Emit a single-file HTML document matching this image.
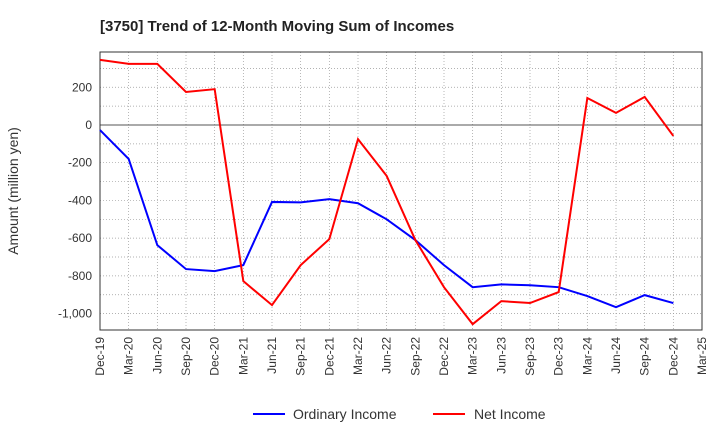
<!DOCTYPE html>
<html><head><meta charset="utf-8"><style>
body{margin:0;background:#fff;font-family:"Liberation Sans",sans-serif}
svg text{font-family:"Liberation Sans",sans-serif}
</style></head><body>
<svg width="720" height="440">
<text x="100" y="31" font-size="15" font-weight="bold" fill="#222">[3750]  Trend of 12-Month Moving Sum of Incomes</text>
<g id="grid"></g>
<g id="axes"></g>
<g id="series"></g>
<text transform="translate(18,191) rotate(-90)" text-anchor="middle" font-size="14" fill="#333">Amount (million yen)</text>
<g>
<g><line x1="253" y1="414" x2="285" y2="414" stroke="#0000ff" stroke-width="2"/><text x="293" y="419" font-size="14" fill="#333">Ordinary Income</text></g>
<g><line x1="433" y1="414" x2="465" y2="414" stroke="#ff0000" stroke-width="2"/><text x="474" y="419" font-size="14" fill="#333">Net Income</text></g>
</g>
</svg>
<script>
const categories=["Dec-19","Mar-20","Jun-20","Sep-20","Dec-20","Mar-21","Jun-21","Sep-21","Dec-21","Mar-22","Jun-22","Sep-22","Dec-22","Mar-23","Jun-23","Sep-23","Dec-23","Mar-24","Jun-24","Sep-24","Dec-24","Mar-25"];
const ordinaryIncome=[-27,-180,-637,-764,-775,-743,-408,-410,-393,-415,-500,-610,-743,-860,-845,-850,-860,-907,-966,-902,-944];
const netIncome=[345,324,324,175,190,-828,-955,-743,-605,-75,-270,-610,-860,-1056,-934,-944,-886,143,64,149,-58];
const yTicks=[200,0,-200,-400,-600,-800,-1000];
const yTickLabels=["200","0","-200","-400","-600","-800","-1,000"];
const X0=100,X1=702,Y0=52,Y1=330,YMAX=387,YMIN=-1087;
const xs=i=>X0+i*(X1-X0)/(categories.length-1);
const ys=v=>Y0+(YMAX-v)/(YMAX-YMIN)*(Y1-Y0);
const NS="http://www.w3.org/2000/svg";
function mk(p,t,a){const e=document.createElementNS(NS,t);for(const k in a)e.setAttribute(k,a[k]);p.appendChild(e);return e;}
const grid=document.getElementById('grid'),axes=document.getElementById('axes'),ser=document.getElementById('series');
for(let v=-1000;v<=300;v+=100){const l=mk(grid,'line',{x1:X0,x2:X1,y1:ys(v),y2:ys(v),stroke:'#999','stroke-width':0.7,'stroke-dasharray':'1,2'});

}
categories.forEach((c,i)=>{const x=xs(i);
const l=mk(grid,'line',{x1:x,x2:x,y1:Y0,y2:Y1,stroke:'#999','stroke-width':0.7,'stroke-dasharray':'1,2'});


const t=mk(axes,'text',{transform:`translate(${x+4},${Y1+7}) rotate(-90)`,'text-anchor':'end','font-size':12,fill:'#333'});
t.textContent=c;

});
const z=mk(axes,'line',{x1:X0,x2:X1,y1:ys(0),y2:ys(0),stroke:'#555','stroke-width':1});


const r=mk(axes,'rect',{x:X0,y:Y0,width:X1-X0,height:Y1-Y0,fill:'none',stroke:'#333','stroke-width':1});


yTicks.forEach((v,i)=>{const t=mk(axes,'text',{x:X0-8,y:ys(v)+4,'text-anchor':'end','font-size':12,fill:'#333'});
t.textContent=yTickLabels[i];

});
function line(d,col,name){const p=mk(ser,'polyline',{points:d.map((v,i)=>xs(i)+','+ys(v)).join(' '),fill:'none',stroke:col,'stroke-width':2});

}
line(ordinaryIncome,'#0000ff','ordinary-income-line');
line(netIncome,'#ff0000','net-income-line');
</script>
</body></html>
